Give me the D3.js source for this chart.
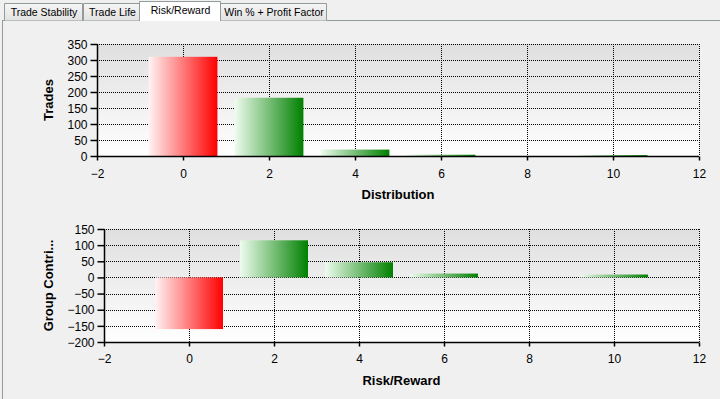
<!DOCTYPE html>
<html>
<head>
<meta charset="utf-8">
<script src="https://cdn.jsdelivr.net/npm/d3@7"></script>
<style>
    body { margin: 0; background: #f0f0f0; }
    svg { display: block; font-family: "Liberation Sans", Arial, sans-serif; }
</style>
</head>
<body>
<svg id="chart" width="720" height="399"></svg>
<script>
// Chart data
const tabNames = ['Trade Stability', 'Trade Life', 'Risk/Reward', 'Win % + Profit Factor'];
const riskReward = [0, 2, 4, 6, 8, 10];
const trades = [310, 182, 20, 4, 0, 3];
const groupContribution = [-160, 115, 47, 12, 0, 9];
const xTicks = [-2, 0, 2, 4, 6, 8, 10, 12];
const tradesTicks = [0, 50, 100, 150, 200, 250, 300, 350];
const contribTicks = [-200, -150, -100, -50, 0, 50, 100, 150];

const svg = d3.select('#chart');
const defs = svg.append('defs');

// Gradients for plot background and bars
const bg = defs.append('linearGradient').attr('id', 'plotBg')
    .attr('x1', 0).attr('y1', 0).attr('x2', 0).attr('y2', 1);
bg.append('stop').attr('offset', '0%').attr('stop-color', '#dfdfdf');
bg.append('stop').attr('offset', '100%').attr('stop-color', '#ffffff');

const red = defs.append('linearGradient').attr('id', 'redBar');
red.append('stop').attr('offset', '0%').attr('stop-color', '#fff4f4');
red.append('stop').attr('offset', '100%').attr('stop-color', '#ff0000');

const green = defs.append('linearGradient').attr('id', 'greenBar');
green.append('stop').attr('offset', '0%').attr('stop-color', '#eefcee');
green.append('stop').attr('offset', '100%').attr('stop-color', '#008000');

const tabGrad = defs.append('linearGradient').attr('id', 'tabBg')
    .attr('x1', 0).attr('y1', 0).attr('x2', 0).attr('y2', 1);
tabGrad.append('stop').attr('offset', '0%').attr('stop-color', '#f6f6f6');
tabGrad.append('stop').attr('offset', '100%').attr('stop-color', '#e2e2e2');

// Tab strip
const tabEdges = [4, 83, 141, 220, 327];
const activeTab = 2;
svg.append('rect')
    .attr('x', 2.5).attr('y', 20.5).attr('width', 730).attr('height', 400)
    .attr('fill', '#f0f0f0').attr('stroke', '#919b9c');

tabNames.forEach((name, i) => {
    const active = i === activeTab;
    const x0 = tabEdges[i] + (active ? -2 : 0);
    const x1 = tabEdges[i + 1] - 1 + (active ? 1 : 0);
    const top = active ? 1.5 : 3.5;
    const bottom = active ? 21 : 20.5;
    svg.append('path')
        .attr('d', `M${x0 + 0.5},${bottom}V${top}H${x1 + 0.5}V${bottom}`)
        .attr('fill', active ? '#ffffff' : 'url(#tabBg)')
        .attr('stroke', '#919b9c');
    svg.append('text')
        .attr('x', (x0 + x1) / 2 + 1)
        .attr('y', active ? 14 : 16)
        .attr('text-anchor', 'middle')
        .attr('font-size', '10.5px')
        .attr('fill', '#000')
        .text(name);
});

// Draw one bar chart panel
function drawPanel(opts) {
    const { left, right, top, bottom, values, yTicks, yTitle, xTitle, titleY, tickLabelY } = opts;

    const x = d3.scaleLinear().domain([-2, 12]).range([left, right]);
    const y = d3.scaleLinear().domain([yTicks[0], yTicks[yTicks.length - 1]]).range([bottom, top]);

    const g = svg.append('g');

    g.append('rect')
        .attr('x', left).attr('y', top)
        .attr('width', right - left).attr('height', bottom - top)
        .attr('fill', 'url(#plotBg)');

    // Dotted grid
    g.selectAll('.hgrid').data(yTicks.slice(1))
        .enter().append('line')
        .attr('x1', left).attr('x2', right)
        .attr('y1', d => Math.round(y(d)) + 0.5).attr('y2', d => Math.round(y(d)) + 0.5)
        .attr('stroke', '#000').attr('stroke-dasharray', '1,1');

    g.selectAll('.vgrid').data(xTicks.slice(1))
        .enter().append('line')
        .attr('x1', d => Math.round(x(d)) + 0.5).attr('x2', d => Math.round(x(d)) + 0.5)
        .attr('y1', top).attr('y2', bottom)
        .attr('stroke', '#000').attr('stroke-dasharray', '1,1');

    // Bars
    const zero = y(0);
    g.selectAll('.bar').data(riskReward.map((r, i) => ({ r, v: values[i], c: groupContribution[i] })))
        .enter().append('rect')
        .attr('x', d => x(d.r - 0.8))
        .attr('width', d => x(d.r + 0.8) - x(d.r - 0.8))
        .attr('y', d => Math.min(y(d.v), zero))
        .attr('height', d => Math.abs(y(d.v) - zero))
        .attr('fill', d => d.c < 0 ? 'url(#redBar)' : 'url(#greenBar)');

    // Axes
    const yAxis = d3.axisLeft(y).tickValues(yTicks).tickSize(7).tickPadding(3);
    const yG = g.append('g').attr('transform', `translate(${left + 0.5},0)`).call(yAxis);

    const xAxis = d3.axisBottom(x).tickValues(xTicks).tickSize(4).tickPadding(7);
    const xG = g.append('g').attr('transform', `translate(0,${bottom + 0.5})`).call(xAxis);

    [yG, xG].forEach(ax => {
        ax.select('.domain').attr('stroke', '#000').attr('stroke-width', 1.5);
        ax.selectAll('.tick line').attr('stroke', '#000').attr('stroke-width', 1.5);
        ax.selectAll('text').attr('font-size', '12px').attr('fill', '#000')
            .attr('font-family', '"Liberation Sans", Arial, sans-serif');
    });
    yG.select('.domain').attr('d', `M0,${top}V${bottom}`);
    xG.select('.domain').attr('d', `M${left},0H${right}`);
    xG.selectAll('.tick text').attr('dy', null).attr('y', tickLabelY - bottom);
    yG.selectAll('.tick text').attr('dy', '0.35em');

    // Titles
    g.append('text')
        .attr('transform', `translate(52.5,${(top + bottom) / 2}) rotate(-90)`)
        .attr('text-anchor', 'middle')
        .attr('font-size', '13px')
        .attr('font-weight', 'bold')
        .text(yTitle);

    g.append('text')
        .attr('x', (left + right) / 2)
        .attr('y', titleY)
        .attr('text-anchor', 'middle')
        .attr('font-size', '13px')
        .attr('font-weight', 'bold')
        .text(xTitle);
}

drawPanel({
    left: 97, right: 699, top: 44, bottom: 156,
    values: trades, yTicks: tradesTicks,
    yTitle: 'Trades', xTitle: 'Distribution',
    titleY: 199, tickLabelY: 177
});

drawPanel({
    left: 104, right: 699, top: 229, bottom: 342,
    values: groupContribution, yTicks: contribTicks,
    yTitle: 'Group Contri...', xTitle: 'Risk/Reward',
    titleY: 385, tickLabelY: 362
});
</script>
</body>
</html>
